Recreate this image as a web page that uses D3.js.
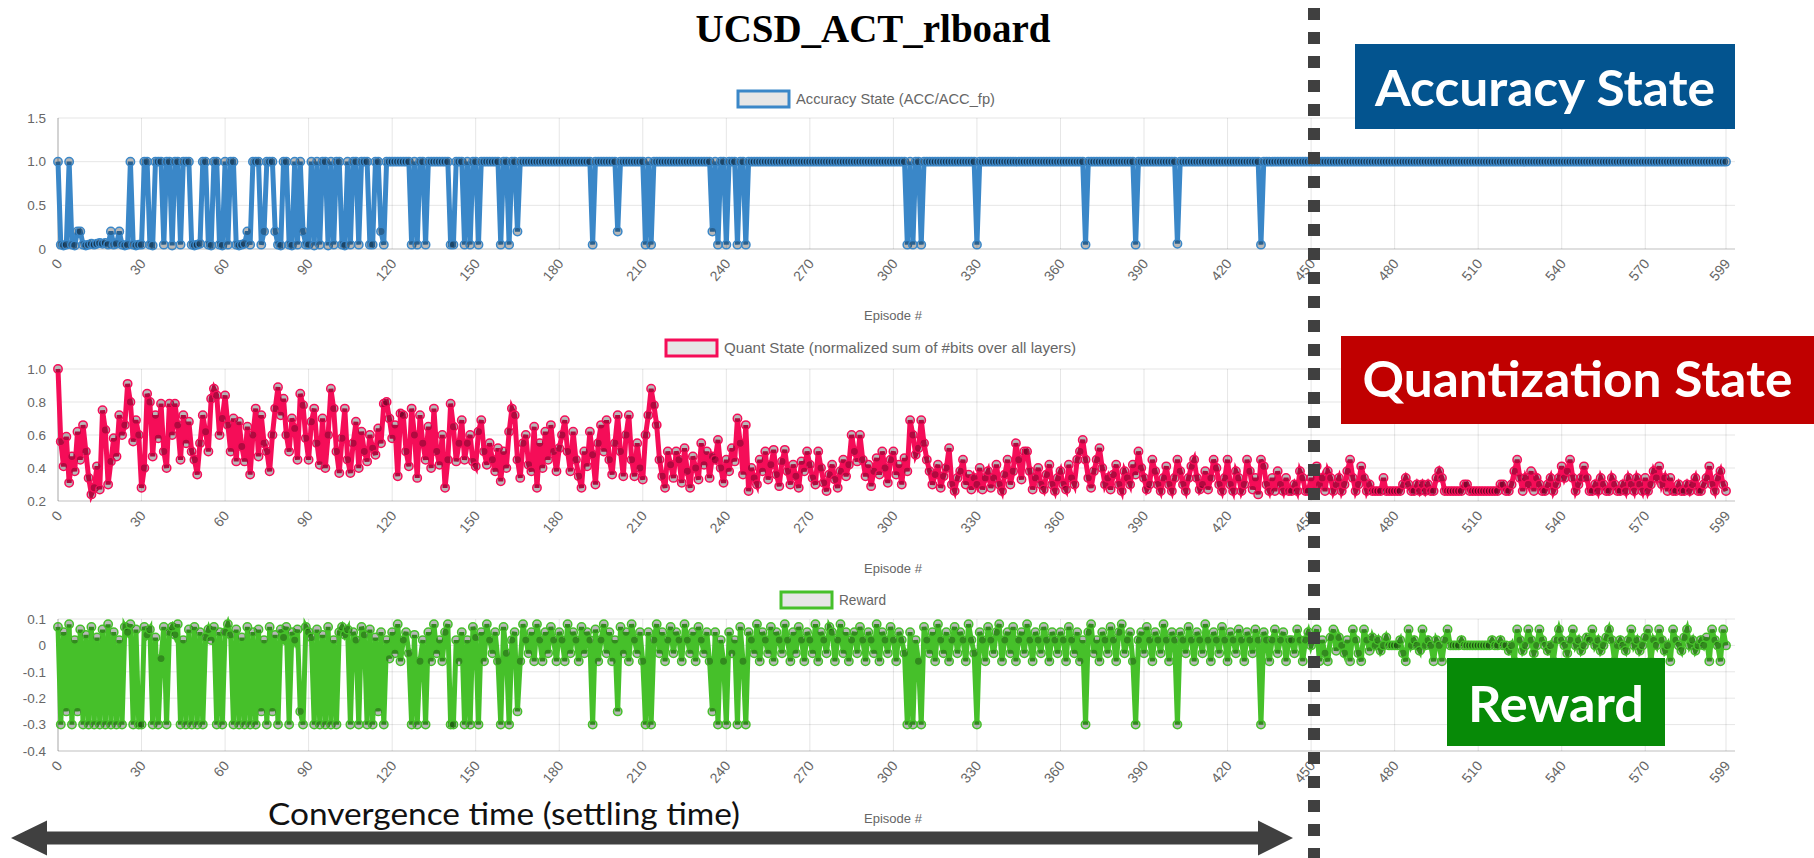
<!DOCTYPE html>
<html>
<head>
<meta charset="utf-8">
<script src="https://cdn.jsdelivr.net/npm/d3@7"></script>
<style>
  html, body { margin: 0; padding: 0; background: #ffffff; }
  svg { display: block; }
</style>
</head>
<body>
<svg id="chart" width="1814" height="858"></svg>
<script>
// ---- tick labels ----
const episodeTicks = [0, 30, 60, 90, 120, 150, 180, 210, 240, 270, 300, 330, 360, 390, 420, 450, 480, 510, 540, 570, 599];
const accTicks = [0, 0.5, 1.0, 1.5];
const accTickLabels = ["0", "0.5", "1.0", "1.5"];
const quantTicks = [0.2, 0.4, 0.6, 0.8, 1.0];
const quantTickLabels = ["0.2", "0.4", "0.6", "0.8", "1.0"];
const rewardTicks = [-0.4, -0.3, -0.2, -0.1, 0, 0.1];
const rewardTickLabels = ["-0.4", "-0.3", "-0.2", "-0.1", "0", "0.1"];

// ---- accuracy state (ACC / ACC_fp), episodes 0..599, one row per 30 episodes ----
const accuracy = [
  1,.05,.04,.05,1,.05,.04,.2,.2,.05,.04,.05,.06,.05,.06,.07,.06,.07,.05,.2,.05,.06,.2,.05,.04,.05,1,.05,.04,.05,
  .05,1,1,.05,.04,1,1,1,.05,1,1,.04,1,1,.05,1,1,1,.05,.04,.05,.06,1,1,.05,.04,1,1,.05,.04,
  1,.05,1,1,.05,.04,.05,.06,.2,.05,1,1,1,.05,.2,1,1,1,.2,.05,.04,1,1,.05,.04,1,.05,1,.2,.05,
  .05,1,.04,1,.05,1,1,.04,1,.05,1,1,.05,.04,1,.05,1,1,.05,1,1,1,.05,.05,1,1,.2,.05,1,1,
  1,1,1,1,1,1,1,.05,1,.05,1,1,.05,1,1,1,1,1,1,1,1,.05,.05,1,1,1,.05,1,.05,1,
  1,.05,1,1,1,1,1,1,1,.05,1,1,.05,1,1,.2,1,1,1,1,1,1,1,1,1,1,1,1,1,1,
  1,1,1,1,1,1,1,1,1,1,1,1,.05,1,1,1,1,1,1,1,1,.2,1,1,1,1,1,1,1,1,
  1,.05,1,.05,1,1,1,1,1,1,1,1,1,1,1,1,1,1,1,1,1,1,1,1,1,.2,1,.05,1,1,
  .05,1,1,1,.05,1,1,.05,1,1,1,1,1,1,1,1,1,1,1,1,1,1,1,1,1,1,1,1,1,1,
  1,1,1,1,1,1,1,1,1,1,1,1,1,1,1,1,1,1,1,1,1,1,1,1,1,1,1,1,1,1,
  1,1,1,1,1,.05,1,.05,1,1,.05,1,1,1,1,1,1,1,1,1,1,1,1,1,1,1,1,1,1,1,
  .05,1,1,1,1,1,1,1,1,1,1,1,1,1,1,1,1,1,1,1,1,1,1,1,1,1,1,1,1,1,
  1,1,1,1,1,1,1,1,1,.05,1,1,1,1,1,1,1,1,1,1,1,1,1,1,1,1,1,.05,1,1,
  1,1,1,1,1,1,1,1,1,1,1,1,.06,1,1,1,1,1,1,1,1,1,1,1,1,1,1,1,1,1,
  1,1,1,1,1,1,1,1,1,1,1,1,.05,1,1,1,1,1,1,1,1,1,1,1,1,1,1,1,1,1,
  1,1,1,1,1,1,1,1,1,1,1,1,1,1,1,1,1,1,1,1,1,1,1,1,1,1,1,1,1,1,
  1,1,1,1,1,1,1,1,1,1,1,1,1,1,1,1,1,1,1,1,1,1,1,1,1,1,1,1,1,1,
  1,1,1,1,1,1,1,1,1,1,1,1,1,1,1,1,1,1,1,1,1,1,1,1,1,1,1,1,1,1,
  1,1,1,1,1,1,1,1,1,1,1,1,1,1,1,1,1,1,1,1,1,1,1,1,1,1,1,1,1,1,
  1,1,1,1,1,1,1,1,1,1,1,1,1,1,1,1,1,1,1,1,1,1,1,1,1,1,1,1,1,1
];

// ---- quantization state (normalized sum of #bits over all layers) ----
const quant = [
  1,.56,.41,.59,.31,.47,.38,.62,.45,.66,.5,.34,.24,.28,.41,.27,.75,.63,.3,.44,.58,.47,.72,.6,.66,.91,.8,.56,.69,.6,
  .28,.4,.85,.8,.47,.72,.58,.79,.5,.4,.79,.6,.79,.66,.45,.72,.55,.68,.5,.45,.36,.55,.72,.62,.5,.82,.88,.84,.6,.7,
  .84,.66,.5,.7,.44,.68,.53,.44,.65,.36,.6,.76,.47,.72,.55,.5,.38,.6,.76,.89,.72,.82,.6,.5,.7,.64,.45,.85,.78,.58,
  .45,.68,.76,.55,.42,.7,.4,.6,.88,.76,.5,.37,.58,.76,.45,.37,.55,.68,.4,.62,.5,.44,.6,.52,.48,.64,.55,.79,.8,.7,
  .58,.66,.35,.73,.72,.5,.41,.76,.6,.34,.72,.55,.45,.65,.4,.76,.5,.42,.6,.28,.45,.79,.65,.44,.55,.69,.45,.55,.6,.44,
  .41,.62,.69,.5,.42,.55,.45,.38,.52,.32,.5,.4,.62,.76,.72,.45,.34,.55,.6,.42,.38,.65,.28,.55,.4,.62,.45,.66,.5,.38,
  .52,.6,.69,.5,.38,.62,.45,.35,.28,.5,.41,.62,.48,.3,.55,.66,.5,.69,.45,.36,.55,.72,.5,.35,.6,.72,.45,.35,.55,.4,
  .33,.6,.72,.88,.78,.66,.45,.35,.28,.5,.42,.34,.5,.45,.31,.52,.38,.28,.47,.4,.33,.55,.42,.5,.34,.47,.45,.57,.4,.31,
  .45,.38,.52,.44,.7,.55,.36,.66,.26,.4,.34,.3,.45,.38,.5,.33,.42,.51,.36,.29,.44,.51,.38,.3,.42,.35,.28,.44,.38,.5,
  .42,.34,.3,.5,.4,.31,.26,.36,.42,.33,.28,.38,.45,.35,.42,.6,.5,.44,.6,.45,.35,.42,.29,.38,.46,.36,.5,.4,.31,.45,
  .5,.36,.42,.3,.46,.38,.69,.6,.48,.52,.69,.55,.45,.38,.3,.36,.42,.28,.35,.4,.52,.3,.26,.34,.38,.45,.3,.36,.27,.34,
  .3,.4,.27,.34,.38,.28,.34,.42,.3,.26,.36,.45,.3,.38,.55,.45,.33,.5,.5,.38,.27,.34,.4,.3,.27,.36,.42,.3,.26,.34,
  .38,.3,.27,.42,.34,.3,.45,.5,.57,.45,.34,.28,.38,.45,.52,.4,.3,.34,.27,.36,.42,.3,.26,.38,.34,.3,.42,.36,.5,.4,
  .34,.27,.3,.45,.38,.3,.26,.34,.41,.3,.26,.34,.45,.38,.3,.26,.34,.41,.45,.34,.27,.3,.38,.27,.34,.45,.4,.3,.26,.34,
  .45,.3,.26,.38,.34,.26,.3,.45,.38,.27,.34,.24,.45,.41,.3,.26,.34,.26,.38,.3,.26,.34,.26,.26,.3,.26,.38,.34,.26,.26,
  .34,.26,.41,.3,.34,.26,.38,.34,.26,.3,.34,.26,.3,.38,.45,.34,.26,.3,.41,.34,.26,.3,.26,.26,.26,.26,.34,.26,.26,.26,
  .26,.26,.26,.3,.34,.3,.26,.26,.3,.26,.3,.26,.3,.26,.26,.34,.38,.34,.26,.26,.26,.26,.26,.26,.26,.3,.3,.26,.26,.26,
  .26,.26,.26,.26,.26,.26,.26,.26,.3,.3,.26,.26,.3,.38,.45,.34,.26,.34,.3,.38,.26,.34,.3,.26,.26,.3,.34,.26,.3,.34,
  .41,.34,.38,.45,.34,.26,.3,.34,.41,.34,.26,.26,.3,.26,.34,.3,.26,.26,.34,.3,.26,.26,.3,.26,.34,.3,.26,.34,.3,.26,
  .34,.26,.3,.38,.34,.41,.3,.34,.26,.34,.26,.26,.3,.26,.26,.3,.26,.3,.34,.26,.26,.3,.34,.41,.3,.26,.34,.38,.3,.26
];

// ---- reward per episode ----
const reward = [
  .07,-.3,.05,-.25,.08,-.3,.02,-.25,.06,-.3,.04,-.3,.07,-.3,.03,-.3,.06,-.3,.08,-.3,.05,-.3,.02,-.3,.07,.05,.08,-.3,.06,-.3,
  -.3,.07,.04,.06,-.3,.03,-.3,-.05,.07,-.3,.05,.07,.04,.08,-.3,.02,-.3,.06,-.3,.07,-.3,.05,-.3,.03,.06,.02,.07,-.3,.05,-.3,
  .05,.08,.04,-.3,.06,-.3,.03,-.3,.07,-.3,.05,-.3,.06,-.25,.02,-.3,.07,-.25,.04,-.3,.06,.03,.07,-.3,.05,.02,.06,-.25,-.3,.07,
  .05,.03,-.3,.06,-.3,.04,-.3,.07,-.3,.02,-.3,.05,.07,.04,.06,-.3,.05,.02,-.3,.07,.04,-.3,.06,-.3,.03,-.25,.05,-.3,.02,-.05,
  .05,-.03,.08,-.06,.02,.05,-.03,-.3,.04,-.3,-.06,.02,-.3,.05,-.06,.08,-.03,.02,-.06,.05,.08,-.3,-.3,.02,-.06,.05,-.3,.02,-.3,.07,
  .03,-.3,.05,-.06,.08,.02,-.03,.05,-.06,-.3,.07,-.03,-.3,.02,.05,-.25,-.06,.08,.02,-.03,.05,-.06,.08,.02,-.06,.05,-.03,.07,.02,-.06,
  .05,.02,-.06,.08,-.03,.05,.02,-.06,.07,-.03,.05,.02,-.3,.06,-.06,.02,.08,-.03,.05,-.06,.02,-.25,.07,-.03,.05,-.06,.08,.02,-.03,.05,
  -.06,-.3,.05,-.3,.02,.08,-.03,.05,-.06,.02,.07,-.03,.05,.02,-.06,.08,.02,-.03,.05,-.06,.07,.02,-.03,.05,-.06,-.25,.05,-.3,.02,-.06,
  -.3,.05,-.03,.02,-.3,.07,-.06,-.3,.05,.02,-.03,.08,-.06,.05,.02,-.03,.07,-.06,.05,.02,-.03,.08,.02,-.06,.05,-.03,.07,.02,-.06,.05,
  .02,-.03,.08,-.06,.05,.02,-.03,.07,.05,-.06,.02,.08,-.03,.05,-.06,.02,.05,-.03,.07,.02,-.06,.05,.02,-.03,.08,-.06,.05,.02,-.03,.07,
  .02,-.06,.05,.02,-.03,-.3,.05,-.3,.02,-.06,-.3,.07,.02,-.03,.05,-.06,.08,.02,-.03,.05,-.06,.02,.07,-.03,.05,.02,-.06,.08,.02,-.03,
  -.3,.05,.02,-.06,.07,.02,-.03,.05,.08,-.06,.02,.05,-.03,.07,-.06,.02,.05,-.03,.08,.02,-.06,.05,.02,-.03,.07,.02,-.06,.05,.02,-.03,
  .05,.02,-.06,.07,.02,-.03,.05,-.06,.02,-.3,.05,.08,-.03,.02,-.06,.05,.02,-.03,.07,.02,-.06,.05,.08,-.03,.02,.05,-.06,-.3,.02,.05,
  -.03,.07,.02,-.06,.05,.02,-.03,.08,.02,-.06,.05,.02,-.3,.05,.02,-.03,.07,.02,-.06,.05,.02,-.03,.08,.02,-.06,.05,.02,-.03,.07,.02,
  -.06,.05,.02,-.03,.06,.02,-.06,.05,.02,-.03,.06,.02,-.3,.05,.02,-.06,.02,.06,-.03,.02,.05,-.06,.02,.02,-.03,.06,.02,-.06,.02,.05,
  0,.03,.06,-.06,.02,-.03,-.06,.03,.06,-.02,.03,0,-.03,.02,-.06,.06,.02,-.03,-.06,.06,.02,-.02,.03,0,.02,-.02,0,.03,0,0,
  0,0,.02,-.03,-.06,.06,0,.02,0,-.02,.06,0,.02,0,-.06,.02,0,-.06,.02,.06,0,0,0,0,.02,0,0,0,0,0,
  0,0,0,0,0,.02,0,0,.02,0,0,-.02,0,-.06,.06,.02,-.02,0,.06,.02,-.03,0,.06,.02,0,-.02,0,-.06,.02,.06,
  .02,0,-.03,.02,.06,0,.02,-.02,0,.03,.02,.06,0,.02,-.02,0,.03,.06,.02,-.06,0,.02,0,-.02,.02,.06,0,.02,-.02,0,
  .03,.06,-.06,.02,0,.06,.02,-.02,0,-.06,.06,.02,0,-.02,.03,.06,0,.02,-.02,0,.02,0,.03,-.06,.06,.02,0,-.06,.06,0
];

// ---- drawing ----
const svg = d3.select("#chart");
const tickFont = "'Liberation Sans', Arial, Helvetica, sans-serif";
const xLeft = 58, xRight = 1726, plotRight = 1735;

const x = d3.scaleLinear().domain([0, 599]).range([xLeft, xRight]);

const panels = [
  { key: "acc", values: accuracy, domain: [0, 1.5], range: [249, 118],
    ticks: accTicks, tickLabels: accTickLabels, color: "#3a87c8",
    legend: "Accuracy State (ACC/ACC_fp)", legendX: 738, legendY: 99, legendTextLen: 199, episodeY: 315 },
  { key: "quant", values: quant, domain: [0.2, 1.0], range: [501, 369],
    ticks: quantTicks, tickLabels: quantTickLabels, color: "#f50d58",
    legend: "Quant State (normalized sum of #bits over all layers)", legendX: 666, legendY: 348, legendTextLen: 352, episodeY: 568 },
  { key: "reward", values: reward, domain: [-0.4, 0.1], range: [751, 619],
    ticks: rewardTicks, tickLabels: rewardTickLabels, color: "#46c02a",
    legend: "Reward", legendX: 781, legendY: 600, legendTextLen: 47, episodeY: 818 }
];

const defs = svg.append("defs");

panels.forEach(p => {
  const y = d3.scaleLinear().domain(p.domain).range(p.range);
  const top = p.range[1], bottom = p.range[0];
  const g = svg.append("g").attr("class", "panel-" + p.key);

  // grid: vertical lines at the labelled episodes
  g.append("g").selectAll("line").data(episodeTicks).join("line")
    .attr("x1", d => x(d)).attr("x2", d => x(d))
    .attr("y1", top).attr("y2", bottom)
    .attr("stroke", "rgba(0,0,0,0.1)").attr("stroke-width", 1);

  // grid: horizontal lines at the value ticks
  g.append("g").selectAll("line").data(p.ticks).join("line")
    .attr("x1", xLeft).attr("x2", plotRight)
    .attr("y1", d => y(d)).attr("y2", d => y(d))
    .attr("stroke", d => d === p.domain[0] ? "rgba(0,0,0,0.25)" : "rgba(0,0,0,0.1)")
    .attr("stroke-width", 1);

  // y axis line
  g.append("line").attr("x1", xLeft).attr("x2", xLeft).attr("y1", top).attr("y2", bottom)
    .attr("stroke", "rgba(0,0,0,0.25)");

  // y tick labels
  g.append("g").selectAll("text").data(p.ticks).join("text")
    .attr("x", 46).attr("y", d => y(d)).attr("dy", "0.35em")
    .attr("text-anchor", "end")
    .attr("font-family", tickFont).attr("font-size", 13.5).attr("fill", "#666")
    .text((d, i) => p.tickLabels[i]);

  // x tick labels, rotated
  g.append("g").selectAll("text").data(episodeTicks).join("text")
    .attr("transform", d => `translate(${x(d) + 5},${bottom + 15}) rotate(-50)`)
    .attr("text-anchor", "end")
    .attr("font-family", tickFont).attr("font-size", 14).attr("fill", "#666")
    .text(d => d);

  // axis title
  g.append("text").attr("x", 893).attr("y", p.episodeY).attr("dy", "0.35em")
    .attr("text-anchor", "middle")
    .attr("font-family", tickFont).attr("font-size", 13).attr("fill", "#666")
    .text("Episode #");

  // legend
  g.append("rect").attr("x", p.legendX).attr("y", p.legendY - 8).attr("width", 51).attr("height", 16)
    .attr("fill", "#e6e6e6").attr("stroke", p.color).attr("stroke-width", 3);
  g.append("text").attr("x", p.legendX + 58).attr("y", p.legendY).attr("dy", "0.35em")
    .attr("font-family", tickFont).attr("font-size", 15).attr("fill", "#666")
    .attr("textLength", p.legendTextLen).attr("lengthAdjust", "spacingAndGlyphs")
    .text(p.legend);

  // clip series to the plot area
  const clipId = "clip-" + p.key;
  defs.append("clipPath").attr("id", clipId).append("rect")
    .attr("x", xLeft - 6).attr("y", top - 8).attr("width", plotRight - xLeft + 12).attr("height", bottom - top + 14);

  const series = g.append("g").attr("clip-path", `url(#${clipId})`);
  const line = d3.line().x((d, i) => x(i)).y(d => y(d));

  series.append("path").datum(p.values)
    .attr("d", line)
    .attr("fill", "none")
    .attr("stroke", p.color)
    .attr("stroke-width", 5)
    .attr("stroke-linejoin", "miter")
    .attr("stroke-miterlimit", 4);

  series.append("g").selectAll("circle").data(p.values).join("circle")
    .attr("cx", (d, i) => x(i)).attr("cy", d => y(d)).attr("r", 4.2)
    .attr("fill", "rgba(0,0,0,0.28)")
    .attr("stroke", p.color).attr("stroke-width", 1.5);
});

// ---- title ----
svg.append("text").attr("x", 873).attr("y", 42).attr("text-anchor", "middle")
  .attr("font-family", "'Liberation Serif', 'Times New Roman', serif")
  .attr("font-weight", "bold").attr("font-size", 41).attr("fill", "#000")
  .attr("textLength", 355).attr("lengthAdjust", "spacingAndGlyphs")
  .text("UCSD_ACT_rlboard");

// ---- settling-time marker ----
svg.append("line").attr("x1", 1314).attr("x2", 1314).attr("y1", 8).attr("y2", 858)
  .attr("stroke", "#404040").attr("stroke-width", 12).attr("stroke-dasharray", "12 12");

const arrowY = 838;
svg.append("path")
  .attr("d", `M11,${arrowY} L47,${arrowY - 17.5} L47,${arrowY - 6.5} L1258,${arrowY - 6.5} L1258,${arrowY - 17.5}
              L1293,${arrowY} L1258,${arrowY + 17.5} L1258,${arrowY + 6.5} L47,${arrowY + 6.5} L47,${arrowY + 17.5} Z`)
  .attr("fill", "#404040");

svg.append("text").attr("x", 268).attr("y", 825)
  .attr("font-family", "Lato, 'Open Sans', sans-serif").attr("font-size", 30).attr("fill", "#111")
  .attr("textLength", 472).attr("lengthAdjust", "spacingAndGlyphs")
  .text("Convergence time (settling time)");

// ---- panel captions ----
const captions = [
  { text: "Accuracy State", x: 1355, y: 44, w: 380, h: 85, fill: "#03548f", base: 106, len: 340 },
  { text: "Quantization State", x: 1341, y: 336, w: 473, h: 88, fill: "#c00000", base: 397, len: 430 },
  { text: "Reward", x: 1447, y: 658, w: 218, h: 88, fill: "#078a07", base: 722, len: 176 }
];
captions.forEach(c => {
  svg.append("rect").attr("x", c.x).attr("y", c.y).attr("width", c.w).attr("height", c.h).attr("fill", c.fill);
  svg.append("text").attr("x", c.x + c.w / 2).attr("y", c.base).attr("text-anchor", "middle")
    .attr("font-family", "Lato, 'Open Sans', sans-serif").attr("font-weight", "bold")
    .attr("font-size", 50).attr("fill", "#fff")
    .attr("textLength", c.len).attr("lengthAdjust", "spacingAndGlyphs")
    .text(c.text);
});
</script>
</body>
</html>
